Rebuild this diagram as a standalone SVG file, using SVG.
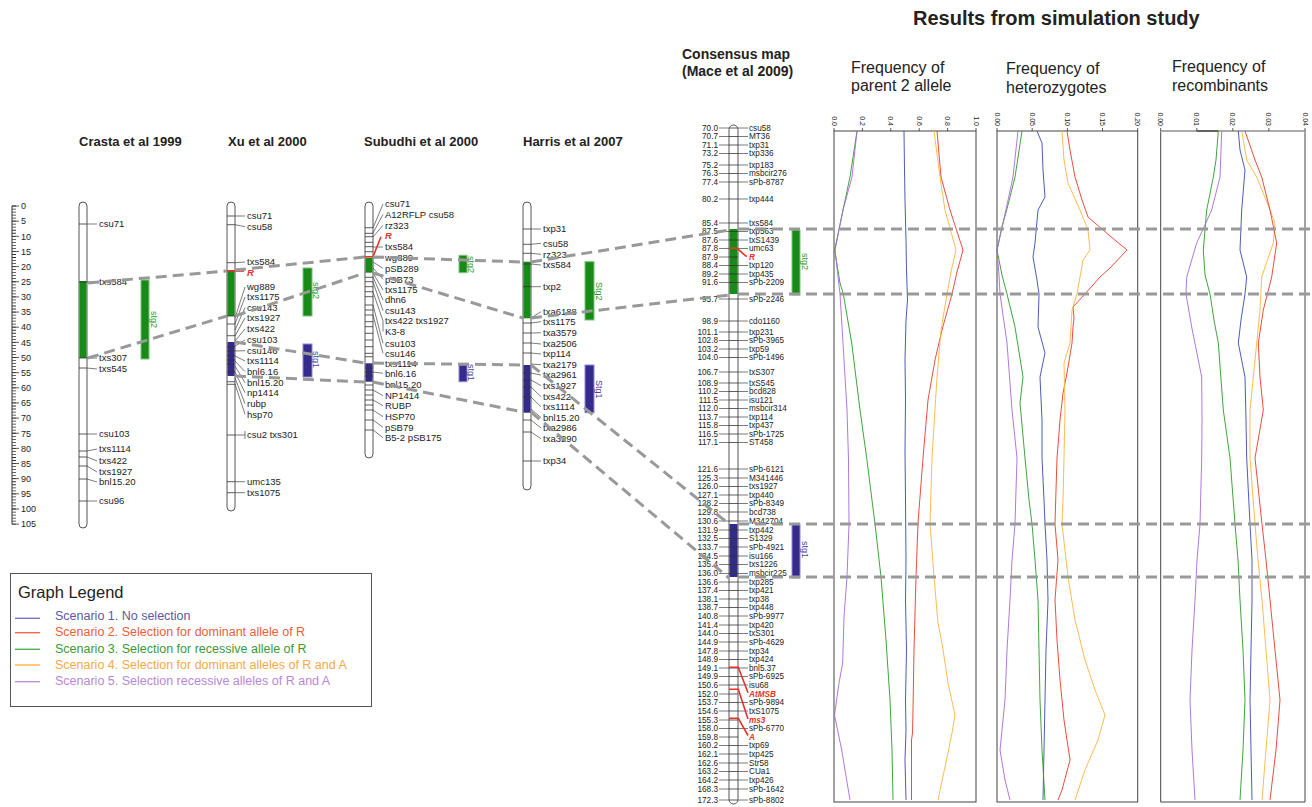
<svg xmlns="http://www.w3.org/2000/svg" width="1312" height="807" viewBox="0 0 1312 807">
<style>
text{font-family:"Liberation Sans",Arial,sans-serif;fill:#222}
.ttl{font-weight:bold;font-size:13px}
.lb{font-size:9.5px}
.cl{font-size:8.2px}
.rl{font-size:9px}
.ax{font-size:7px}
.hd{font-size:16px}
.chr{fill:#fff;stroke:#555;stroke-width:1}
.tk{stroke:#333;stroke-width:0.8;fill:none}
.ln{stroke:#444;stroke-width:0.7;fill:none}
.gb{fill:#178a17}
.bb{fill:#342a88}
.gs{fill:#178a17;stroke:#7cc47c;stroke-width:1}
.bs{fill:#352b8c;stroke:#8f86cf;stroke-width:1}
.gt{font-size:9px;fill:#2a9a2a}
.bt{font-size:9px;fill:#4a3fa0}
.red{stroke:#e8322a;stroke-width:1.6;fill:none}
.rt{fill:#e8322a;font-style:italic;font-weight:bold}
.dash{stroke:#999;stroke-width:3;stroke-dasharray:11 6;fill:none}
.cv{fill:none;stroke-width:0.9}
.c1{stroke:#3a4ab0}.c2{stroke:#e83a2a}.c3{stroke:#2a9a2a}.c4{stroke:#ffb340}.c5{stroke:#aa66dd}
.frame{fill:none;stroke:#444;stroke-width:1}
.lg{font-size:12.5px}
</style>

<!-- ruler -->
<g id="ruler">
<line x1="12" y1="206" x2="12" y2="524.2" stroke="#333" stroke-width="1"/>
<line x1="14" y1="205.6" x2="14" y2="524.6" stroke="#333" stroke-width="4" stroke-dasharray="0.8 2.23"/>
<path class="tk" d="M12 206H19M12 221.15H19M12 236.3H19M12 251.45H19M12 266.6H19M12 281.75H19M12 296.9H19M12 312.05H19M12 327.2H19M12 342.35H19M12 357.5H19M12 372.65H19M12 387.8H19M12 402.95H19M12 418.1H19M12 433.25H19M12 448.4H19M12 463.55H19M12 478.7H19M12 493.85H19M12 509H19M12 524.15H19"/>
<g class="rl">
<text class="rl" x="21" y="209.2">0</text><text class="rl" x="21" y="224.4">5</text><text class="rl" x="21" y="239.5">10</text><text class="rl" x="21" y="254.7">15</text><text class="rl" x="21" y="269.8">20</text><text class="rl" x="21" y="285">25</text><text class="rl" x="21" y="300.1">30</text><text class="rl" x="21" y="315.3">35</text><text class="rl" x="21" y="330.4">40</text><text class="rl" x="21" y="345.6">45</text><text class="rl" x="21" y="360.7">50</text><text class="rl" x="21" y="375.9">55</text><text class="rl" x="21" y="391">60</text><text class="rl" x="21" y="406.2">65</text><text class="rl" x="21" y="421.3">70</text><text class="rl" x="21" y="436.5">75</text><text class="rl" x="21" y="451.6">80</text><text class="rl" x="21" y="466.8">85</text><text class="rl" x="21" y="481.9">90</text><text class="rl" x="21" y="497.1">95</text><text class="rl" x="21" y="512.2">100</text><text class="rl" x="21" y="527.4">105</text>
</g>
</g>

<!-- Crasta -->
<g id="crasta">
<text class="ttl" x="79" y="146">Crasta et al 1999</text>
<rect class="chr" x="79" y="202" width="8" height="326" rx="4"/>
<rect class="gb" x="79.5" y="281" width="7" height="77"/>
<path class="tk" d="M79 224H87M79 282H87M79 358H87M79 368H87M79 434H87M79 451H87M79 457H87M79 466H87M79 479H87M79 501H87"/>
<path class="ln" d="M87 224H97M87 282H97M87 358H97M87 368L97 369M87 434H97M87 451L97 449M87 457L97 461M87 466L97 472M87 479L97 482M87 501H97"/>
<text class="lb" x="99" y="227.4">csu71</text>
<text class="lb" x="99" y="285.4">txs584</text>
<text class="lb" x="99" y="361.4">txs307</text>
<text class="lb" x="99" y="372.4">txs545</text>
<text class="lb" x="99" y="437.4">csu103</text>
<text class="lb" x="99" y="452.4">txs1114</text>
<text class="lb" x="99" y="464.4">txs422</text>
<text class="lb" x="99" y="475.4">txs1927</text>
<text class="lb" x="99" y="485.4">bnl15.20</text>
<text class="lb" x="99" y="504.4">csu96</text>
</g>
<g id="crasta-stg2">
<rect class="gs" x="141" y="280" width="8" height="79"/>
<text class="gt" transform="translate(151,311) rotate(90)">stg2</text>
</g>

<!-- Xu -->
<g id="xu">
<text class="ttl" x="228" y="146">Xu et al 2000</text>
<rect class="chr" x="227" y="202" width="8" height="309" rx="4"/>
<rect class="gb" x="227.5" y="270" width="7" height="46"/>
<rect class="bb" x="227.5" y="342" width="7" height="34"/>
<path class="tk" d="M227 216H235M227 224.7H235M227 262.7H235M227 316H235M227 324H235M227 335.7H235M227 346.7H235M227 351H235M227 355.7H235M227 360H235M227 364H235M227 371.7H235M227 381.7H235M227 384.3H235M227 435H235M227 481.7H235M227 492.7H235"/>
<path class="ln" d="M235 216H245M235 224.7L245 226.7M235 262.7L245 262M235 318L245 287M235 324L245 297M235 330L245 307.7M235 336L245 318M235 341L245 329M235 346L245 340M235 351L245 350.7M235 356L245 361M235 361L245 371.7M235 366L245 382.7M235 372L245 392.7M235 378L245 403.7M235 384L245 414.3M235 435H245M245 431V439M235 481.7H245M235 492.7H245"/>
<path class="red" d="M226 271H244"/>
<text class="lb rt" x="247" y="276">R</text>
<text class="lb" x="247" y="219.4">csu71</text>
<text class="lb" x="247" y="230.1">csu58</text>
<text class="lb" x="247" y="265.4">txs584</text>
<text class="lb" x="247" y="290.4">wg889</text>
<text class="lb" x="247" y="300.4">txs1175</text>
<text class="lb" x="247" y="311.1">csu143</text>
<text class="lb" x="247" y="321.4">txs1927</text>
<text class="lb" x="247" y="332.4">txs422</text>
<text class="lb" x="247" y="343.4">csu103</text>
<text class="lb" x="247" y="354.1">csu146</text>
<text class="lb" x="247" y="364.4">txs1114</text>
<text class="lb" x="247" y="375.1">bnl6.16</text>
<text class="lb" x="247" y="386.1">bnl15.20</text>
<text class="lb" x="247" y="396.1">np1414</text>
<text class="lb" x="247" y="407.1">rubp</text>
<text class="lb" x="247" y="417.7">hsp70</text>
<text class="lb" x="247" y="438.4">csu2 txs301</text>
<text class="lb" x="247" y="485.1">umc135</text>
<text class="lb" x="247" y="496.1">txs1075</text>
</g>
<g id="xu-stg2">
<rect class="gs" x="303" y="268" width="9" height="48"/>
<text class="gt" transform="translate(313,282) rotate(90)">stg2</text>
</g>
<g id="xu-stg1">
<rect class="bs" x="303" y="344" width="9" height="33"/>
<text class="bt" transform="translate(313,351) rotate(90)">stg1</text>
</g>

<!-- Subudhi -->
<g id="subudhi">
<text class="ttl" x="364" y="146">Subudhi et al 2000</text>
<rect class="chr" x="365" y="202" width="8" height="256" rx="4"/>
<rect class="gb" x="365.5" y="257.7" width="7" height="15"/>
<rect class="bb" x="365.5" y="363.3" width="7" height="18.4"/>
<path class="tk" d="M365 227.7H373M365 233.3H373M365 236.7H373M365 242.3H373M365 246.7H373M365 251.7H373M365 277.3H373M365 281.7H373M365 286.7H373M365 291.7H373M365 296.7H373M365 305H373M365 310H373M365 315H373M365 321.7H373M365 326.7H373M365 333.3H373M365 340H373M365 346.7H373M365 353.3H373M365 356.7H373M365 368H373M365 372H373M365 376H373M365 385H373M365 390H373M365 395H373M365 400H373M365 405H373M365 410H373M365 420H373M365 430H373"/>
<path class="ln" d="M373 228L383 204M373 233L383 214.3M373 237L383 225.3M373 247L383 247M373 258L383 257.7M373 262L383 268.3M373 268L383 279.3M373 273L383 290M373 277L383 300M373 282L383 310.7M373 292L383 320.7M383 320.7V331.7M373 305L383 343.3M373 315L383 353.3M373 363L383 363.3M373 372L383 373.3M373 382L383 384.3M373 390L383 395.7M373 400L383 405.7M373 410L383 416.7M373 420L383 427.3M373 430L383 437.7"/>
<path class="red" d="M364 256.7H373L381 236.7"/>
<text class="lb" x="385" y="207.4">csu71</text>
<text class="lb" x="385" y="217.7">A12RFLP csu58</text>
<text class="lb" x="385" y="228.7">rz323</text>
<text class="lb rt" x="385" y="239.4">R</text>
<text class="lb" x="385" y="250.1">txs584</text>
<text class="lb" x="385" y="261.1">wg889</text>
<text class="lb" x="385" y="271.7">pSB289</text>
<text class="lb" x="385" y="282.7">pSB73</text>
<text class="lb" x="385" y="293.4">txs1175</text>
<text class="lb" x="385" y="303.4">dhn6</text>
<text class="lb" x="385" y="314.1">csu143</text>
<text class="lb" x="385" y="324.1">txs422 txs1927</text>
<text class="lb" x="385" y="335.1">K3-8</text>
<text class="lb" x="385" y="346.7">csu103</text>
<text class="lb" x="385" y="356.7">csu146</text>
<text class="lb" x="385" y="366.7">txs1114</text>
<text class="lb" x="385" y="376.7">bnl6.16</text>
<text class="lb" x="385" y="387.7">bnl15.20</text>
<text class="lb" x="385" y="399.1">NP1414</text>
<text class="lb" x="385" y="409.1">RUBP</text>
<text class="lb" x="385" y="420.1">HSP70</text>
<text class="lb" x="385" y="430.7">pSB79</text>
<text class="lb" x="385" y="441.1">B5-2 pSB175</text>
</g>
<g id="subudhi-stg2">
<rect class="gs" x="459" y="255.3" width="8" height="17.4"/>
<text class="gt" transform="translate(468,256) rotate(90)">stg2</text>
</g>
<g id="subudhi-stg1">
<rect class="bs" x="459" y="363.3" width="8" height="18.4"/>
<text class="bt" transform="translate(468,364) rotate(90)">stg1</text>
</g>

<!-- Harris -->
<g id="harris">
<text class="ttl" x="523" y="146">Harris et al 2007</text>
<rect class="chr" x="523" y="202" width="8" height="288" rx="4"/>
<rect class="gb" x="523.5" y="261.7" width="7" height="56.6"/>
<rect class="bb" x="523.5" y="365" width="7" height="47.7"/>
<path class="tk" d="M523 229H531M523 244.3H531M523 253.3H531M523 264H531M523 286.7H531M523 323H531M523 333H531M523 343H531M523 353H531M523 373H531M523 380H531M523 387H531M523 397H531M523 420H531M523 432H531M523 461H531"/>
<path class="ln" d="M531 229H541M531 244.3L541 243.3M531 253.3L541 254.3M531 264L541 265M531 286.7H541M531 318L541 311.7M531 323L541 321.7M531 333L541 332.7M531 343L541 344M531 353L541 354M531 364L541 364.7M531 373L541 375M531 380L541 385.7M531 387L541 396.7M531 397L541 406.7M531 409L541 417.7M531 420L541 428M531 432L541 438.7M531 461H541"/>
<text class="lb" x="543" y="232.4">txp31</text>
<text class="lb" x="543" y="246.7">csu58</text>
<text class="lb" x="543" y="257.7">rz323</text>
<text class="lb" x="543" y="268.4">txs584</text>
<text class="lb" x="543" y="290.1">txp2</text>
<text class="lb" x="543" y="315.1">txa6188</text>
<text class="lb" x="543" y="325.1">txs1175</text>
<text class="lb" x="543" y="336.1">txa3579</text>
<text class="lb" x="543" y="347.4">txa2506</text>
<text class="lb" x="543" y="357.4">txp114</text>
<text class="lb" x="543" y="368.1">txa2179</text>
<text class="lb" x="543" y="378.4">txa2961</text>
<text class="lb" x="543" y="389.1">txs1927</text>
<text class="lb" x="543" y="400.1">txs422</text>
<text class="lb" x="543" y="410.1">txs1114</text>
<text class="lb" x="543" y="421.1">bnl15.20</text>
<text class="lb" x="543" y="431.4">txa2986</text>
<text class="lb" x="543" y="442.1">txa3290</text>
<text class="lb" x="543" y="464.1">txp34</text>
</g>
<g id="harris-stg2">
<rect class="gs" x="585" y="261.7" width="9" height="58.3"/>
<text class="gt" transform="translate(596,282) rotate(90)">Stg2</text>
</g>
<g id="harris-stg1">
<rect class="bs" x="585" y="365" width="9" height="47.7"/>
<text class="bt" transform="translate(596,380) rotate(90)">Stg1</text>
</g>

<!-- Consensus map -->
<g id="consensus">
<text class="ttl" style="font-size:14px" x="682" y="59">Consensus map</text>
<text class="ttl" style="font-size:14px" x="682" y="76">(Mace et al 2009)</text>
<rect class="chr" x="729" y="125" width="9" height="679" rx="4.5"/>
<rect class="gb" x="729.5" y="229" width="8" height="65"/>
<rect class="bb" x="729.5" y="524" width="8" height="53"/>
<path class="tk" d="M729 128H738M729 136.5H738M729 145H738M729 153.5H738M729 165H738M729 173.5H738M729 182H738M729 199H738M729 223H738M729 231.5H738M729 240H738M729 248.5H738M729 257H738M729 265.5H738M729 274H738M729 282.5H738M729 299H738M729 321H738M729 332H738M729 340.5H738M729 349H738M729 357.5H738M729 372H738M729 383H738M729 391.5H738M729 400H738M729 408.5H738M729 417H738M729 425.5H738M729 434H738M729 442.5H738M729 469H738M729 478H738M729 486.5H738M729 495H738M729 503.5H738M729 512H738M729 521H738M729 530H738M729 538.5H738M729 547H738M729 556H738M729 564.5H738M729 573.5H738M729 582H738M729 590.5H738M729 599H738M729 607.5H738M729 616H738M729 625H738M729 633.5H738M729 642H738M729 651H738M729 659.5H738M729 668H738M729 676.5H738M729 685H738M729 694H738M729 702.5H738M729 711H738M729 720H738M729 728.5H738M729 737H738M729 745.5H738M729 754H738M729 763H738M729 771.5H738M729 780H738M729 789H738M729 800H738"/>
<path class="ln" d="M719 128H729M738 128H748M719 136.5H729M738 136.5H748M719 145H729M738 145H748M719 153.5H729M738 153.5H748M719 165H729M738 165H748M719 173.5H729M738 173.5H748M719 182H729M738 182H748M719 199H729M738 199H748M719 223H729M738 223H748M719 231.5H729M738 231.5H748M719 240H729M738 240H748M719 248.5H729M738 248.5H748M719 257H729M719 265.5H729M738 265.5H748M719 274H729M738 274H748M719 282.5H729M738 282.5H748M719 299H729M738 299H748M719 321H729M738 321H748M719 332H729M738 332H748M719 340.5H729M738 340.5H748M719 349H729M738 349H748M719 357.5H729M738 357.5H748M719 372H729M738 372H748M719 383H729M738 383H748M719 391.5H729M738 391.5H748M719 400H729M738 400H748M719 408.5H729M738 408.5H748M719 417H729M738 417H748M719 425.5H729M738 425.5H748M719 434H729M738 434H748M719 442.5H729M738 442.5H748M719 469H729M738 469H748M719 478H729M738 478H748M719 486.5H729M738 486.5H748M719 495H729M738 495H748M719 503.5H729M738 503.5H748M719 512H729M738 512H748M719 521H729M738 521H748M719 530H729M738 530H748M719 538.5H729M738 538.5H748M719 547H729M738 547H748M719 556H729M738 556H748M719 564.5H729M738 564.5H748M719 573.5H729M738 573.5H748M719 582H729M738 582H748M719 590.5H729M738 590.5H748M719 599H729M738 599H748M719 607.5H729M738 607.5H748M719 616H729M738 616H748M719 625H729M738 625H748M719 633.5H729M738 633.5H748M719 642H729M738 642H748M719 651H729M738 651H748M719 659.5H729M738 659.5H748M719 668H729M738 668H748M719 676.5H729M738 676.5H748M719 685H729M738 685H748M719 694H729M719 702.5H729M738 702.5H748M719 711H729M738 711H748M719 720H729M719 728.5H729M738 728.5H748M719 737H729M719 745.5H729M738 745.5H748M719 754H729M738 754H748M719 763H729M738 763H748M719 771.5H729M738 771.5H748M719 780H729M738 780H748M719 789H729M738 789H748M719 800H729M738 800H748"/>
<path class="red" d="M729 248.3H737L746.7 256.7M729 667.3H738.3L748 692.7M729 689.3H738.3L748 719M729 718.3H738.3L748 735.5"/>
<g class="cl" text-anchor="end">
<text class="cl" x="718" y="130.8">70.0</text><text class="cl" x="718" y="139.3">70.7</text><text class="cl" x="718" y="147.8">71.1</text><text class="cl" x="718" y="156.3">73.2</text><text class="cl" x="718" y="167.8">75.2</text><text class="cl" x="718" y="176.3">76.3</text><text class="cl" x="718" y="184.8">77.4</text><text class="cl" x="718" y="201.8">80.2</text><text class="cl" x="718" y="225.8">85.4</text><text class="cl" x="718" y="234.3">87.5</text><text class="cl" x="718" y="242.8">87.6</text><text class="cl" x="718" y="251.3">87.8</text><text class="cl" x="718" y="259.8">87.9</text><text class="cl" x="718" y="268.3">88.4</text><text class="cl" x="718" y="276.8">89.2</text><text class="cl" x="718" y="285.3">91.6</text><text class="cl" x="718" y="301.8">95.7</text><text class="cl" x="718" y="323.8">98.9</text><text class="cl" x="718" y="334.8">101.1</text><text class="cl" x="718" y="343.3">102.8</text><text class="cl" x="718" y="351.8">103.2</text><text class="cl" x="718" y="360.3">104.0</text><text class="cl" x="718" y="374.8">106.7</text><text class="cl" x="718" y="385.8">108.9</text><text class="cl" x="718" y="394.3">110.2</text><text class="cl" x="718" y="402.8">111.5</text><text class="cl" x="718" y="411.3">112.0</text><text class="cl" x="718" y="419.8">113.7</text><text class="cl" x="718" y="428.3">115.8</text><text class="cl" x="718" y="436.8">116.5</text><text class="cl" x="718" y="445.3">117.1</text><text class="cl" x="718" y="471.8">121.6</text><text class="cl" x="718" y="480.8">125.3</text><text class="cl" x="718" y="489.3">126.0</text><text class="cl" x="718" y="497.8">127.1</text><text class="cl" x="718" y="506.3">128.2</text><text class="cl" x="718" y="514.8">129.8</text><text class="cl" x="718" y="523.8">130.6</text><text class="cl" x="718" y="532.8">131.9</text><text class="cl" x="718" y="541.3">132.5</text><text class="cl" x="718" y="549.8">133.7</text><text class="cl" x="718" y="558.8">134.5</text><text class="cl" x="718" y="567.3">135.4</text><text class="cl" x="718" y="576.3">136.0</text><text class="cl" x="718" y="584.8">136.6</text><text class="cl" x="718" y="593.3">137.4</text><text class="cl" x="718" y="601.8">138.1</text><text class="cl" x="718" y="610.3">138.7</text><text class="cl" x="718" y="618.8">140.8</text><text class="cl" x="718" y="627.8">141.4</text><text class="cl" x="718" y="636.3">144.0</text><text class="cl" x="718" y="644.8">144.9</text><text class="cl" x="718" y="653.8">147.8</text><text class="cl" x="718" y="662.3">148.9</text><text class="cl" x="718" y="670.8">149.1</text><text class="cl" x="718" y="679.3">149.9</text><text class="cl" x="718" y="687.8">150.6</text><text class="cl" x="718" y="696.8">152.0</text><text class="cl" x="718" y="705.3">153.7</text><text class="cl" x="718" y="713.8">154.6</text><text class="cl" x="718" y="722.8">155.3</text><text class="cl" x="718" y="731.3">158.0</text><text class="cl" x="718" y="739.8">159.8</text><text class="cl" x="718" y="748.3">160.2</text><text class="cl" x="718" y="756.8">162.1</text><text class="cl" x="718" y="765.8">162.6</text><text class="cl" x="718" y="774.3">163.2</text><text class="cl" x="718" y="782.8">164.2</text><text class="cl" x="718" y="791.8">168.3</text><text class="cl" x="718" y="802.8">172.3</text>
</g>
<g class="cl">
<text class="cl" x="749" y="130.8">csu58</text><text class="cl" x="749" y="139.3">MT36</text><text class="cl" x="749" y="147.8">txp31</text><text class="cl" x="749" y="156.3">txp336</text><text class="cl" x="749" y="167.8">txp183</text><text class="cl" x="749" y="176.3">msbcir276</text><text class="cl" x="749" y="184.8">sPb-8787</text><text class="cl" x="749" y="201.8">txp444</text><text class="cl" x="749" y="225.8">txs584</text><text class="cl" x="749" y="234.3">txp563</text><text class="cl" x="749" y="242.8">txS1439</text><text class="cl" x="749" y="251.3">umc63</text><text class="cl rt" x="749" y="259.8">R</text><text class="cl" x="749" y="268.3">txp120</text><text class="cl" x="749" y="276.8">txp435</text><text class="cl" x="749" y="285.3">sPb-2209</text><text class="cl" x="749" y="301.8">sPb-2246</text><text class="cl" x="749" y="323.8">cdo1160</text><text class="cl" x="749" y="334.8">txp231</text><text class="cl" x="749" y="343.3">sPb-3965</text><text class="cl" x="749" y="351.8">txp59</text><text class="cl" x="749" y="360.3">sPb-1496</text><text class="cl" x="749" y="374.8">txS307</text><text class="cl" x="749" y="385.8">txS545</text><text class="cl" x="749" y="394.3">bcd828</text><text class="cl" x="749" y="402.8">isu121</text><text class="cl" x="749" y="411.3">msbcir314</text><text class="cl" x="749" y="419.8">txp114</text><text class="cl" x="749" y="428.3">txp437</text><text class="cl" x="749" y="436.8">sPb-1725</text><text class="cl" x="749" y="445.3">ST458</text><text class="cl" x="749" y="471.8">sPb-6121</text><text class="cl" x="749" y="480.8">M341446</text><text class="cl" x="749" y="489.3">txs1927</text><text class="cl" x="749" y="497.8">txp440</text><text class="cl" x="749" y="506.3">sPb-8349</text><text class="cl" x="749" y="514.8">bcd738</text><text class="cl" x="749" y="523.8">M342704</text><text class="cl" x="749" y="532.8">txp442</text><text class="cl" x="749" y="541.3">S1329</text><text class="cl" x="749" y="549.8">sPb-4921</text><text class="cl" x="749" y="558.8">isu166</text><text class="cl" x="749" y="567.3">txs1226</text><text class="cl" x="749" y="576.3">msbcir225</text><text class="cl" x="749" y="584.8">txp285</text><text class="cl" x="749" y="593.3">txp421</text><text class="cl" x="749" y="601.8">txp38</text><text class="cl" x="749" y="610.3">txp448</text><text class="cl" x="749" y="618.8">sPb-9977</text><text class="cl" x="749" y="627.8">txp420</text><text class="cl" x="749" y="636.3">txS301</text><text class="cl" x="749" y="644.8">sPb-4629</text><text class="cl" x="749" y="653.8">txp34</text><text class="cl" x="749" y="662.3">txp424</text><text class="cl" x="749" y="670.8">bnl5.37</text><text class="cl" x="749" y="679.3">sPb-6925</text><text class="cl" x="749" y="687.8">isu68</text><text class="cl rt" x="749" y="696.8">AtMSB</text><text class="cl" x="749" y="705.3">sPb-9894</text><text class="cl" x="749" y="713.8">txS1075</text><text class="cl rt" x="749" y="722.8">ms3</text><text class="cl" x="749" y="731.3">sPb-6770</text><text class="cl rt" x="749" y="739.8">A</text><text class="cl" x="749" y="748.3">txp69</text><text class="cl" x="749" y="756.8">txp425</text><text class="cl" x="749" y="765.8">Str58</text><text class="cl" x="749" y="774.3">CUa1</text><text class="cl" x="749" y="782.8">txp426</text><text class="cl" x="749" y="791.8">sPb-1642</text><text class="cl" x="749" y="802.8">sPb-8802</text>
</g>
</g>
<g id="consensus-stg2">
<rect class="gs" x="792" y="230" width="8" height="65"/>
<text class="gt" transform="translate(802,253) rotate(90)">stg2</text>
</g>
<g id="consensus-stg1">
<rect class="bs" x="792" y="524" width="8" height="54"/>
<text class="bt" transform="translate(802,541) rotate(90)">stg1</text>
</g>

<!-- Simulation plots -->
<g id="sim-title">
<text class="ttl" style="font-size:20px" x="913" y="25">Results from simulation study</text>
</g>
<g id="plot-parent2">
<text class="hd" x="851" y="73">Frequency of</text>
<text class="hd" x="851" y="91">parent 2 allele</text>
<rect class="frame" x="834" y="131" width="142" height="671"/>
<path class="tk" d="M834 128V131M862.4 128V131M890.8 128V131M919.2 128V131M947.6 128V131M976 128V131"/>
<g class="ax" text-anchor="end">
<text class="ax" transform="translate(831.5,126) rotate(90)">0.0</text>
<text class="ax" transform="translate(859.9,126) rotate(90)">0.2</text>
<text class="ax" transform="translate(888.3,126) rotate(90)">0.4</text>
<text class="ax" transform="translate(916.7,126) rotate(90)">0.6</text>
<text class="ax" transform="translate(945.1,126) rotate(90)">0.8</text>
<text class="ax" transform="translate(973.5,126) rotate(90)">1.0</text>
</g>
<polyline class="cv c3" points="857,131 850,177 843,210 834.7,250 840,283 843.3,294 851.7,343 860,410 866.7,458 875,524 881,577 886,640 890,700 892,750 893,800"/>
<polyline class="cv c5" points="857,131 852,177 843,210 835,250 840,294 843,343 847,410 848.5,460 849,524 847,577 844,617 842.7,663 839,683 834.5,715 841.7,750 850,800"/>
<polyline class="cv c1" points="904,131 904.5,170 905,200 906,240 906.5,270 907.5,300 906,320 905,360 905.5,400 905,450 905.5,500 906,560 905.5,600 906.5,650 905.5,700 906,730 905,760 906,800"/>
<polyline class="cv c2" points="937,131 941,177 950,210 963,250 957,272 952,294 942,330 935,360 928,400 923,458 918,523 916,577 914,650 913,710 912.5,733 911.5,740 911.5,800"/>
<polyline class="cv c4" points="934,131 940,177 945,210 956,250 951,272 947,294 941,330 937,377 932,458 930,523 934,577 938,623 942,643 948,683 955,715 952,733 945,767 938,800"/>
</g>
<g id="plot-het">
<text class="hd" x="1006" y="74">Frequency of</text>
<text class="hd" x="1006" y="93">heterozygotes</text>
<rect class="frame" x="997" y="131" width="140.7" height="671"/>
<path class="tk" d="M997 128V131M1032.2 128V131M1067.4 128V131M1102.5 128V131M1137.7 128V131"/>
<g class="ax" text-anchor="end">
<text class="ax" transform="translate(994.5,126) rotate(90)">0.00</text>
<text class="ax" transform="translate(1029.7,126) rotate(90)">0.05</text>
<text class="ax" transform="translate(1064.9,126) rotate(90)">0.10</text>
<text class="ax" transform="translate(1100,126) rotate(90)">0.15</text>
<text class="ax" transform="translate(1135.2,126) rotate(90)">0.20</text>
</g>
<polyline class="cv c2" points="1067,131 1070,150 1075,177 1082,200 1088,217 1095,223 1110,236 1127,250 1110,268 1100,277 1085,294 1073,307 1074,318 1073,327 1072,343 1067,373 1063,393 1060,420 1057,458 1056,490 1055,524 1058,560 1055,600 1057,640 1060,680 1064,720 1070,760 1062,790 1058,800"/>
<polyline class="cv c4" points="1062,131 1064,160 1068,183 1080,210 1088,230 1090,250 1083,260 1077,294 1072,310 1070,343 1064,363 1065,410 1064,458 1063,500 1062,524 1068,577 1075,620 1085,660 1095,690 1105,715 1098,740 1085,770 1075,800"/>
<polyline class="cv c1" points="1037,131 1042,143 1043,170 1045,197 1038,210 1035,243 1033,257 1037,280 1039,294 1038,327 1045,353 1040,377 1042,420 1042,458 1044,500 1045,524 1047,560 1048,600 1046,650 1045,700 1044,750 1043,800"/>
<polyline class="cv c3" points="1022,131 1015,177 1008,205 1002,227 997,250 1002,275 1007,294 1015,327 1023,377 1020,403 1025,458 1029,500 1032,524 1035,560 1038,600 1039,650 1040,700 1042,750 1045,800"/>
<polyline class="cv c5" points="1018,131 1013,177 1007,205 1002,227 997,250 999,275 1000,294 1007,343 1012,410 1017,458 1016,490 1015,524 1012,560 1010,600 1007,650 1005,700 1000,750 1005,780 1010,800"/>
</g>
<g id="plot-rec">
<text class="hd" x="1172" y="72">Frequency of</text>
<text class="hd" x="1172" y="91">recombinants</text>
<path d="M1160.7 131V802H1305V131" class="frame"/>
<line x1="1160" y1="131" x2="1305.5" y2="131" stroke="#aaa" stroke-width="2"/>
<line x1="1196.8" y1="131" x2="1218" y2="131" stroke="#333" stroke-width="1.2"/>
<path class="tk" d="M1160.7 128V131M1196.8 128V131M1232.8 128V131M1268.9 128V131M1305 128V131"/>
<g class="ax" text-anchor="end">
<text class="ax" transform="translate(1158.2,126) rotate(90)">0.00</text>
<text class="ax" transform="translate(1194.3,126) rotate(90)">0.01</text>
<text class="ax" transform="translate(1230.3,126) rotate(90)">0.02</text>
<text class="ax" transform="translate(1266.4,126) rotate(90)">0.03</text>
<text class="ax" transform="translate(1302.5,126) rotate(90)">0.04</text>
</g>
<polyline class="cv c3" points="1218.3,131 1216,160 1213.3,177 1206.7,210 1203.3,250 1205,275 1210,294 1214,320 1218.3,343 1223.3,410 1230,458 1235,524 1238,560 1240,600 1243,650 1245,700 1243,750 1240,800"/>
<polyline class="cv c5" points="1221.7,131 1220,177 1211.7,210 1196.7,243 1186.7,277 1186,294 1191.7,327 1201.7,377 1202,420 1201.7,458 1200,524 1197,560 1195,600 1192,650 1190,700 1192,750 1195,800"/>
<polyline class="cv c1" points="1238.3,131 1240,150 1245,170 1241.7,210 1240,250 1246.7,277 1245,294 1241,320 1238.3,343 1245,377 1246,420 1246.7,458 1250,524 1252,560 1252,600 1251,650 1250,700 1251,750 1252,800"/>
<polyline class="cv c4" points="1241.7,131 1246.7,160 1256.7,177 1270,210 1275,223 1273.3,243 1261.7,277 1260,310 1255,360 1250,410 1250,458 1255,524 1258,560 1262,600 1266,650 1270,700 1266,750 1262,800"/>
<polyline class="cv c2" points="1245,131 1255,160 1261.7,177 1270,210 1276.7,243 1271.7,277 1263.3,310 1258.3,343 1260,377 1263.3,410 1255,458 1262,524 1266,560 1270,600 1275,650 1280,700 1276,750 1270,800"/>
</g>

<!-- connectors -->
<g id="connectors">
<path class="dash" d="M88 283L227 271M235 270L365 257M373 257L523 262M531 262L729 230"/>
<path class="dash" d="M88 358L227 316M235 316L365 273M373 273L523 318M531 318L729 295"/>
<path class="dash" d="M235 342L365 363M373 363L523 365M531 365L729 524"/>
<path class="dash" d="M235 376L365 382M373 382L523 412M531 412L729 578"/>
<path class="dash" d="M738 229H1312M738 294H1312M738 524H1312M738 577H1312"/>
</g>

<!-- legend -->
<g id="legend">
<rect x="10.5" y="573.5" width="361" height="133" fill="#fff" stroke="#555" stroke-width="1"/>
<text x="18" y="598" style="font-size:16.5px">Graph Legend</text>
<line x1="15" y1="618.3" x2="40" y2="618.3" stroke="#6a6acc" stroke-width="1.3"/>
<line x1="15" y1="632.7" x2="40" y2="632.7" stroke="#ff5a44" stroke-width="1.3"/>
<line x1="15" y1="649.3" x2="40" y2="649.3" stroke="#44aa44" stroke-width="1.3"/>
<line x1="15" y1="665" x2="40" y2="665" stroke="#ffaa33" stroke-width="1.3"/>
<line x1="15" y1="681.7" x2="40" y2="681.7" stroke="#bb88dd" stroke-width="1.3"/>
<text class="lg" x="55" y="620" style="fill:#5a5aaa">Scenario 1. No selection</text>
<text class="lg" x="55" y="636" style="fill:#e8603a">Scenario 2. Selection for dominant allele of R</text>
<text class="lg" x="55" y="652.5" style="fill:#3a9a3a">Scenario 3. Selection for recessive allele of R</text>
<text class="lg" x="55" y="668.5" style="fill:#f5a94a">Scenario 4. Selection for dominant alleles of R and A</text>
<text class="lg" x="55" y="685" style="fill:#b888d8">Scenario 5. Selection recessive alleles of R and A</text>
</g>
</svg>
